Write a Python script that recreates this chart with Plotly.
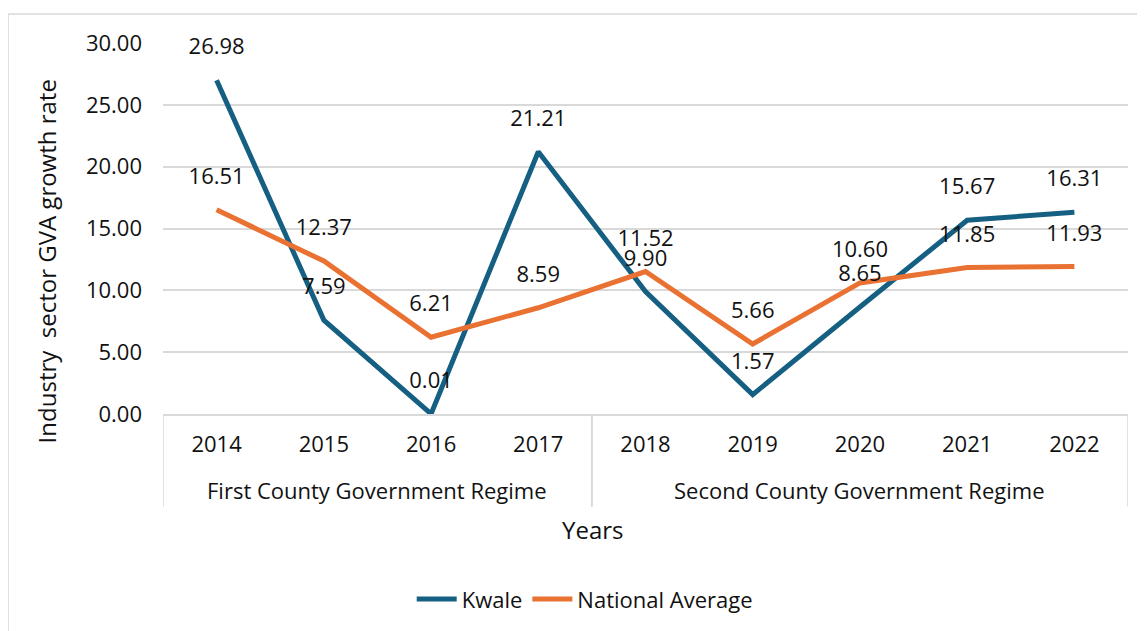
import plotly.graph_objects as go

years = ["2014", "2015", "2016", "2017", "2018", "2019", "2020", "2021", "2022"]
regimes = ["First County Government Regime"] * 4 + ["Second County Government Regime"] * 5
kwale = [26.98, 7.59, 0.01, 21.21, 9.90, 1.57, 8.65, 15.67, 16.31]
national = [16.51, 12.37, 6.21, 8.59, 11.52, 5.66, 10.60, 11.85, 11.93]

FONT = "Open Sans"
BLUE = "#156082"
ORANGE = "#E97132"
GRID = "#d9d9d9"
TXT = "#111111"

fig = go.Figure()
series = [("Kwale", kwale, BLUE), ("National Average", national, ORANGE)]
for name, vals, color in series:
    fig.add_trace(go.Scatter(
        x=years, y=vals, name=name, mode="lines",
        line=dict(color=color, width=5),
    ))
for name, vals, color in series:
    fig.add_trace(go.Scatter(
        x=years, y=vals, name=name, mode="markers+text", showlegend=False,
        marker=dict(size=31, opacity=0, color=color),
        texttemplate="%{y:.2f}", textposition="top center",
        textfont=dict(family=FONT, size=22, color=TXT),
        cliponaxis=False, hoverinfo="skip",
    ))

# group labels and dividers built from the regimes list
groups = []
for i, r in enumerate(regimes):
    if not groups or groups[-1][0] != r:
        groups.append([r, i, i])
    else:
        groups[-1][2] = i

annotations = [
    dict(text="Industry  sector GVA growth rate", xref="paper", yref="paper",
         x=-0.121, y=0.412, textangle=-90, showarrow=False,
         font=dict(family=FONT, size=24, color=TXT), xanchor="center", yanchor="middle"),
    dict(text="Years", xref="paper", yref="paper", x=0.445, y=-0.31, showarrow=False,
         font=dict(family=FONT, size=24, color=TXT), xanchor="center", yanchor="middle"),
]
shapes = [dict(type="rect", xref="paper", yref="paper", x0=-0.1606, x1=1.0166, y0=-0.65, y1=1.078,
               line=dict(color=GRID, width=1.5), layer="below")]
for name, a, b in groups:
    annotations.append(dict(text=name, xref="x", yref="paper", x=(a + b) / 2, y=-0.205,
                            showarrow=False, xanchor="center", yanchor="middle",
                            font=dict(family=FONT, size=22, color=TXT)))
    for edge in (a - 0.5, b + 0.5):
        shapes.append(dict(type="line", xref="x", yref="paper", x0=edge, x1=edge, y0=0, y1=-0.25,
                           line=dict(color=GRID, width=1.5)))

fig.update_layout(
    width=1145, height=631,
    margin=dict(l=155, r=25, t=35, b=225),
    paper_bgcolor="white", plot_bgcolor="white",
    font=dict(family=FONT, size=22, color=TXT),
    showlegend=True,
    legend=dict(orientation="h", x=0.437, xanchor="center", y=-0.499, yanchor="middle",
                font=dict(family=FONT, size=22, color=TXT), itemwidth=40),
    xaxis=dict(type="category", range=[-0.5, len(years) - 0.5], showgrid=False, showline=True,
               linecolor=GRID, linewidth=1.5, ticks="", ticklabelstandoff=10,
               tickfont=dict(family=FONT, size=22, color=TXT)),
    yaxis=dict(range=[0, 30], dtick=5, tickformat=".2f", showgrid=True, gridcolor=GRID, gridwidth=1.5,
               zeroline=False, showline=False, ticks="", ticklabelstandoff=20,
               tickfont=dict(family=FONT, size=22, color=TXT)),
    annotations=annotations,
    shapes=shapes,
)

fig.write_html("out.html")
